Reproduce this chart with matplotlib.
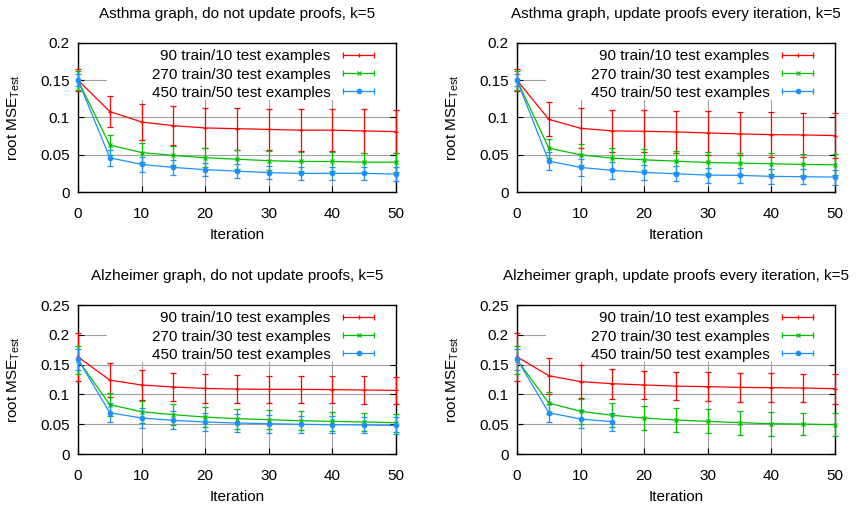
import numpy as np
import matplotlib
matplotlib.use("Agg")
import matplotlib.pyplot as plt
from matplotlib.lines import Line2D
from matplotlib.patches import Rectangle
from matplotlib.legend_handler import HandlerLine2D

plt.rcParams['font.family'] = ['Liberation Sans', 'DejaVu Sans']
plt.rcParams['mathtext.fontset'] = 'custom'
plt.rcParams['mathtext.rm'] = 'Liberation Sans'
plt.rcParams['mathtext.it'] = 'Liberation Sans:italic'
plt.rcParams['font.size'] = 11

# === Data ===
iters = [0, 5, 10, 15, 20, 25, 30, 35, 40, 45, 50]
series_labels = ["90 train/10 test examples",
                 "270 train/30 test examples",
                 "450 train/50 test examples"]

titles = ["Asthma graph, do not update proofs, k=5",
          "Asthma graph, update proofs every iteration, k=5",
          "Alzheimer graph, do not update proofs, k=5",
          "Alzheimer graph, update proofs every iteration, k=5"]

# Asthma, do not update proofs
asthma_noupd_90 = [0.150, 0.108, 0.094, 0.089, 0.086, 0.085, 0.084, 0.083, 0.083, 0.082, 0.081]
asthma_noupd_90_err = [0.015, 0.021, 0.024, 0.026, 0.027, 0.028, 0.028, 0.028, 0.028, 0.029, 0.029]
asthma_noupd_270 = [0.150, 0.063, 0.053, 0.049, 0.046, 0.044, 0.042, 0.041, 0.041, 0.040, 0.040]
asthma_noupd_270_err = [0.013, 0.013, 0.013, 0.013, 0.013, 0.013, 0.013, 0.013, 0.013, 0.013, 0.013]
asthma_noupd_450 = [0.150, 0.046, 0.037, 0.033, 0.030, 0.028, 0.026, 0.025, 0.025, 0.025, 0.024]
asthma_noupd_450_err = [0.008, 0.011, 0.010, 0.010, 0.009, 0.009, 0.009, 0.009, 0.009, 0.009, 0.009]

# Asthma, update proofs every iteration
asthma_upd_90 = [0.150, 0.0975, 0.0855, 0.082, 0.0815, 0.0806, 0.0793, 0.078, 0.077, 0.0766, 0.0757]
asthma_upd_90_err = [0.015, 0.023, 0.027, 0.028, 0.028, 0.028, 0.029, 0.029, 0.030, 0.030, 0.030]
asthma_upd_270 = [0.150, 0.0588, 0.0499, 0.0454, 0.0432, 0.0414, 0.0396, 0.0388, 0.0379, 0.037, 0.0365]
asthma_upd_270_err = [0.013, 0.013, 0.014, 0.014, 0.014, 0.014, 0.014, 0.014, 0.014, 0.014, 0.014]
asthma_upd_450 = [0.150, 0.0414, 0.033, 0.029, 0.0263, 0.0245, 0.0227, 0.0223, 0.021, 0.0205, 0.020]
asthma_upd_450_err = [0.008, 0.012, 0.011, 0.011, 0.010, 0.010, 0.010, 0.010, 0.010, 0.010, 0.010]

# Alzheimer, do not update proofs
alz_noupd_90 = [0.163, 0.124, 0.1158, 0.1124, 0.110, 0.109, 0.1085, 0.1085, 0.108, 0.1074, 0.1068]
alz_noupd_90_err = [0.040, 0.029, 0.026, 0.024, 0.024, 0.024, 0.023, 0.023, 0.023, 0.023, 0.023]
alz_noupd_270 = [0.158, 0.0828, 0.071, 0.066, 0.062, 0.0593, 0.0576, 0.0559, 0.0548, 0.0537, 0.0526]
alz_noupd_270_err = [0.023, 0.019, 0.0185, 0.018, 0.017, 0.017, 0.016, 0.016, 0.016, 0.015, 0.015]
alz_noupd_450 = [0.159, 0.0693, 0.0604, 0.0565, 0.0537, 0.052, 0.0509, 0.0498, 0.0492, 0.0487, 0.048]
alz_noupd_450_err = [0.018, 0.016, 0.016, 0.015, 0.015, 0.015, 0.015, 0.014, 0.014, 0.014, 0.014]

# Alzheimer, update proofs every iteration (450/50 run stops at iteration 15)
alz_upd_90 = [0.163, 0.1314, 0.1214, 0.118, 0.1158, 0.114, 0.113, 0.1118, 0.1113, 0.1107, 0.1096]
alz_upd_90_err = [0.040, 0.030, 0.028, 0.025, 0.023, 0.024, 0.024, 0.024, 0.024, 0.024, 0.025]
alz_upd_270 = [0.158, 0.0856, 0.0716, 0.0649, 0.0604, 0.057, 0.0548, 0.0526, 0.0509, 0.0503, 0.0492]
alz_upd_270_err = [0.023, 0.019, 0.021, 0.020, 0.020, 0.020, 0.020, 0.020, 0.020, 0.019, 0.019]
alz_upd_450 = [0.159, 0.0693, 0.0587, 0.0542]
alz_upd_450_err = [0.018, 0.015, 0.015, 0.015]

panels = [
    [(asthma_noupd_90, asthma_noupd_90_err), (asthma_noupd_270, asthma_noupd_270_err),
     (asthma_noupd_450, asthma_noupd_450_err)],
    [(asthma_upd_90, asthma_upd_90_err), (asthma_upd_270, asthma_upd_270_err),
     (asthma_upd_450, asthma_upd_450_err)],
    [(alz_noupd_90, alz_noupd_90_err), (alz_noupd_270, alz_noupd_270_err),
     (alz_noupd_450, alz_noupd_450_err)],
    [(alz_upd_90, alz_upd_90_err), (alz_upd_270, alz_upd_270_err),
     (alz_upd_450, alz_upd_450_err)],
]

colors = ["#ff0000", "#00c000", "#1e90ff"]
markers = ["+", "x", "o"]
msizes = [3.5, 3, 3.2]

# === Layout (gnuplot-like 2x2) ===
fig = plt.figure(figsize=(8.59, 5.07), dpi=100)
lefts = [0.0908, 0.6019]
bottoms = [0.6213, 0.1045]
w, h = 0.3702, 0.2939

for k, (title, data) in enumerate(zip(titles, panels)):
    ax = fig.add_axes([lefts[k % 2], bottoms[k // 2], w, h])
    ymax = 0.2 if k < 2 else 0.25

    ax.set_xlim(0, 50)
    ax.set_ylim(0, ymax)
    ax.set_xticks(np.arange(0, 51, 10))
    ax.set_yticks(np.arange(0, ymax + 1e-9, 0.05))
    ax.set_yticklabels(["%g" % round(v, 2) for v in np.arange(0, ymax + 1e-9, 0.05)])
    ax.tick_params(direction="in", top=True, right=True, length=4, width=0.8,
                   labelsize=11)
    ax.tick_params(axis="x", pad=11)
    ax.tick_params(axis="y", pad=6)
    ax.grid(True, color="#a0a0a0", lw=0.8, zorder=0)
    ax.set_axisbelow(True)
    for s in ax.spines.values():
        s.set_linewidth(1.0)

    # white key box hides the grid behind the legend
    ax.add_patch(Rectangle((0.092, 0.62), 0.908, 0.38, transform=ax.transAxes,
                           facecolor="white", edgecolor="none", zorder=1))

    handles = []
    hmap = {}
    for (mean, err), c, m, ms in zip(data, colors, markers, msizes):
        x = iters[:len(mean)]
        ax.errorbar(x, mean, yerr=err, color=c, lw=0.9, elinewidth=0.9,
                    capsize=2, capthick=0.9, marker=m, ms=ms, mew=0.9,
                    zorder=3, clip_on=False)
        cap = Line2D([], [], color=c, lw=0.9, marker="|", ms=5, mew=0.9)
        dot = Line2D([], [], color=c, ls="none", marker=m, ms=ms, mew=0.9)
        hmap[cap] = HandlerLine2D(numpoints=2)
        hmap[dot] = HandlerLine2D(numpoints=1)
        handles.append((cap, dot))

    ax.legend(handles, series_labels, handler_map=hmap, loc="upper right",
              bbox_to_anchor=(1 - 6 / 318, 1.035), frameon=False, markerfirst=False,
              handlelength=2.6, handletextpad=0.55, labelspacing=0.28,
              borderpad=0.25, fontsize=11)

    ax.set_title(title, fontsize=11, pad=18)
    ax.set_xlabel("Iteration", fontsize=11, labelpad=5)
    ax.set_ylabel(r"root MSE$_{\mathrm{Test}}$", fontsize=11)
    ax.yaxis.set_label_coords(-0.175, 0.5)

plt.savefig("out.png", dpi=100)
